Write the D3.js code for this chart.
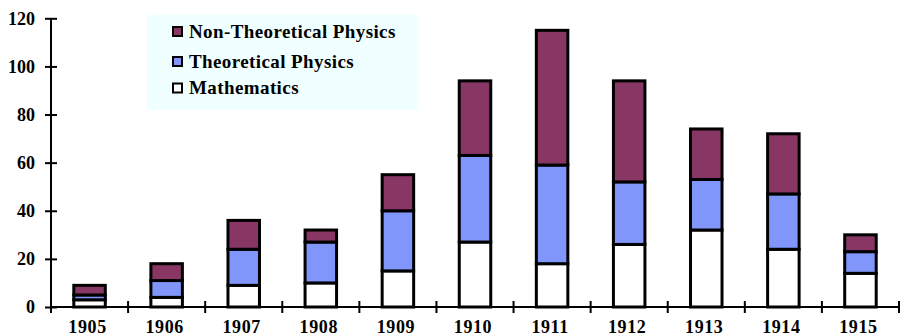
<!DOCTYPE html>
<html>
<head>
<meta charset="utf-8">
<script src="https://cdn.jsdelivr.net/npm/d3@7"></script>
<style>
  html, body { margin: 0; padding: 0; background: #ffffff; }
  svg { display: block; }
  text { font-family: "Liberation Serif", "Times New Roman", serif; font-weight: bold; fill: #000; }
</style>
</head>
<body>
<svg id="chart" width="901" height="336"></svg>
<script>
// Publications per year, split by field
const years = ["1905", "1906", "1907", "1908", "1909", "1910", "1911", "1912", "1913", "1914", "1915"];
const mathematics = [3, 4, 9, 10, 15, 27, 18, 26, 32, 24, 14];
const theoreticalPhysics = [2, 7, 15, 17, 25, 36, 41, 26, 21, 23, 9];
const nonTheoreticalPhysics = [4, 7, 12, 5, 15, 31, 56, 42, 21, 25, 7];
const yTicks = [0, 20, 40, 60, 80, 100, 120];

const seriesNames = ["Mathematics", "Theoretical Physics", "Non-Theoretical Physics"];
const seriesColors = ["#ffffff", "#8096fa", "#883664"];

const svg = d3.select("#chart");

const left = 51, right = 899, baseY = 307, topY = 18.3;

const x = d3.scaleBand().domain(years).range([left, right]).padding(0);
const y = d3.scaleLinear().domain([0, 120]).range([baseY, topY]);

// stack the three series bottom-up
const rows = years.map((yr, i) => ({
  year: yr,
  "Mathematics": mathematics[i],
  "Theoretical Physics": theoreticalPhysics[i],
  "Non-Theoretical Physics": nonTheoreticalPhysics[i]
}));
const stacked = d3.stack().keys(seriesNames)(rows);

const barW = 31.5;
const barOffset = (x.step() - barW) / 2;

const layers = svg.append("g").selectAll("g")
  .data(stacked)
  .join("g")
  .attr("fill", (d, i) => seriesColors[i]);

layers.selectAll("rect")
  .data(d => d)
  .join("rect")
  .attr("x", d => x(d.data.year) + barOffset)
  .attr("y", d => y(d[1]))
  .attr("width", barW)
  .attr("height", d => y(d[0]) - y(d[1]))
  .attr("stroke", "#000")
  .attr("stroke-width", 3);

// Y axis with ticks crossing the axis line
const yAxis = svg.append("g")
  .attr("transform", `translate(${left},0)`)
  .call(d3.axisLeft(y).tickValues(yTicks).tickSize(6).tickPadding(10));
yAxis.select(".domain").remove();
yAxis.selectAll(".tick line")
  .attr("x1", -6).attr("x2", 6)
  .attr("stroke", "#000").attr("stroke-width", 2);
yAxis.selectAll(".tick text")
  .style("font-size", "18px")
  .style("font-family", "'Liberation Serif', serif")
  .style("font-weight", "bold");

svg.append("line")
  .attr("x1", left).attr("x2", left)
  .attr("y1", y(120)).attr("y2", baseY + 6)
  .attr("stroke", "#000").attr("stroke-width", 2);

// X axis: baseline, category labels, and boundary ticks
svg.append("line")
  .attr("x1", left).attr("x2", right)
  .attr("y1", baseY).attr("y2", baseY)
  .attr("stroke", "#000").attr("stroke-width", 2);

const xAxis = svg.append("g")
  .attr("transform", `translate(0,${baseY})`)
  .call(d3.axisBottom(x).tickSize(0));
xAxis.select(".domain").remove();
xAxis.selectAll(".tick text")
  .attr("x", -2)
  .attr("y", 25.5).attr("dy", 0)
  .style("font-size", "18px")
  .style("letter-spacing", "0.6px")
  .style("font-family", "'Liberation Serif', serif")
  .style("font-weight", "bold");

svg.append("g").selectAll("line")
  .data(years)
  .join("line")
  .attr("x1", d => x(d) + x.step()).attr("x2", d => x(d) + x.step())
  .attr("y1", baseY - 6).attr("y2", baseY + 6)
  .attr("stroke", "#000").attr("stroke-width", 2);

// Legend
const legend = svg.append("g");
legend.append("rect")
  .attr("x", 147).attr("y", 15)
  .attr("width", 270).attr("height", 95)
  .attr("fill", "#f0ffff");

const legendItems = [
  { name: "Non-Theoretical Physics", color: seriesColors[2], cy: 31.5, base: 37.5 },
  { name: "Theoretical Physics", color: seriesColors[1], cy: 61.5, base: 67.5 },
  { name: "Mathematics", color: seriesColors[0], cy: 88, base: 94 }
];
const li = legend.selectAll("g.item").data(legendItems).join("g").attr("class", "item");
li.append("rect")
  .attr("x", 173).attr("y", d => d.cy - 4.5)
  .attr("width", 9).attr("height", 9)
  .attr("fill", d => d.color)
  .attr("stroke", "#000").attr("stroke-width", 2);
li.append("text")
  .attr("x", 189).attr("y", d => d.base)
  .style("font-size", "19px")
  .style("letter-spacing", "0.4px")
  .text(d => d.name);
</script>
</body>
</html>
